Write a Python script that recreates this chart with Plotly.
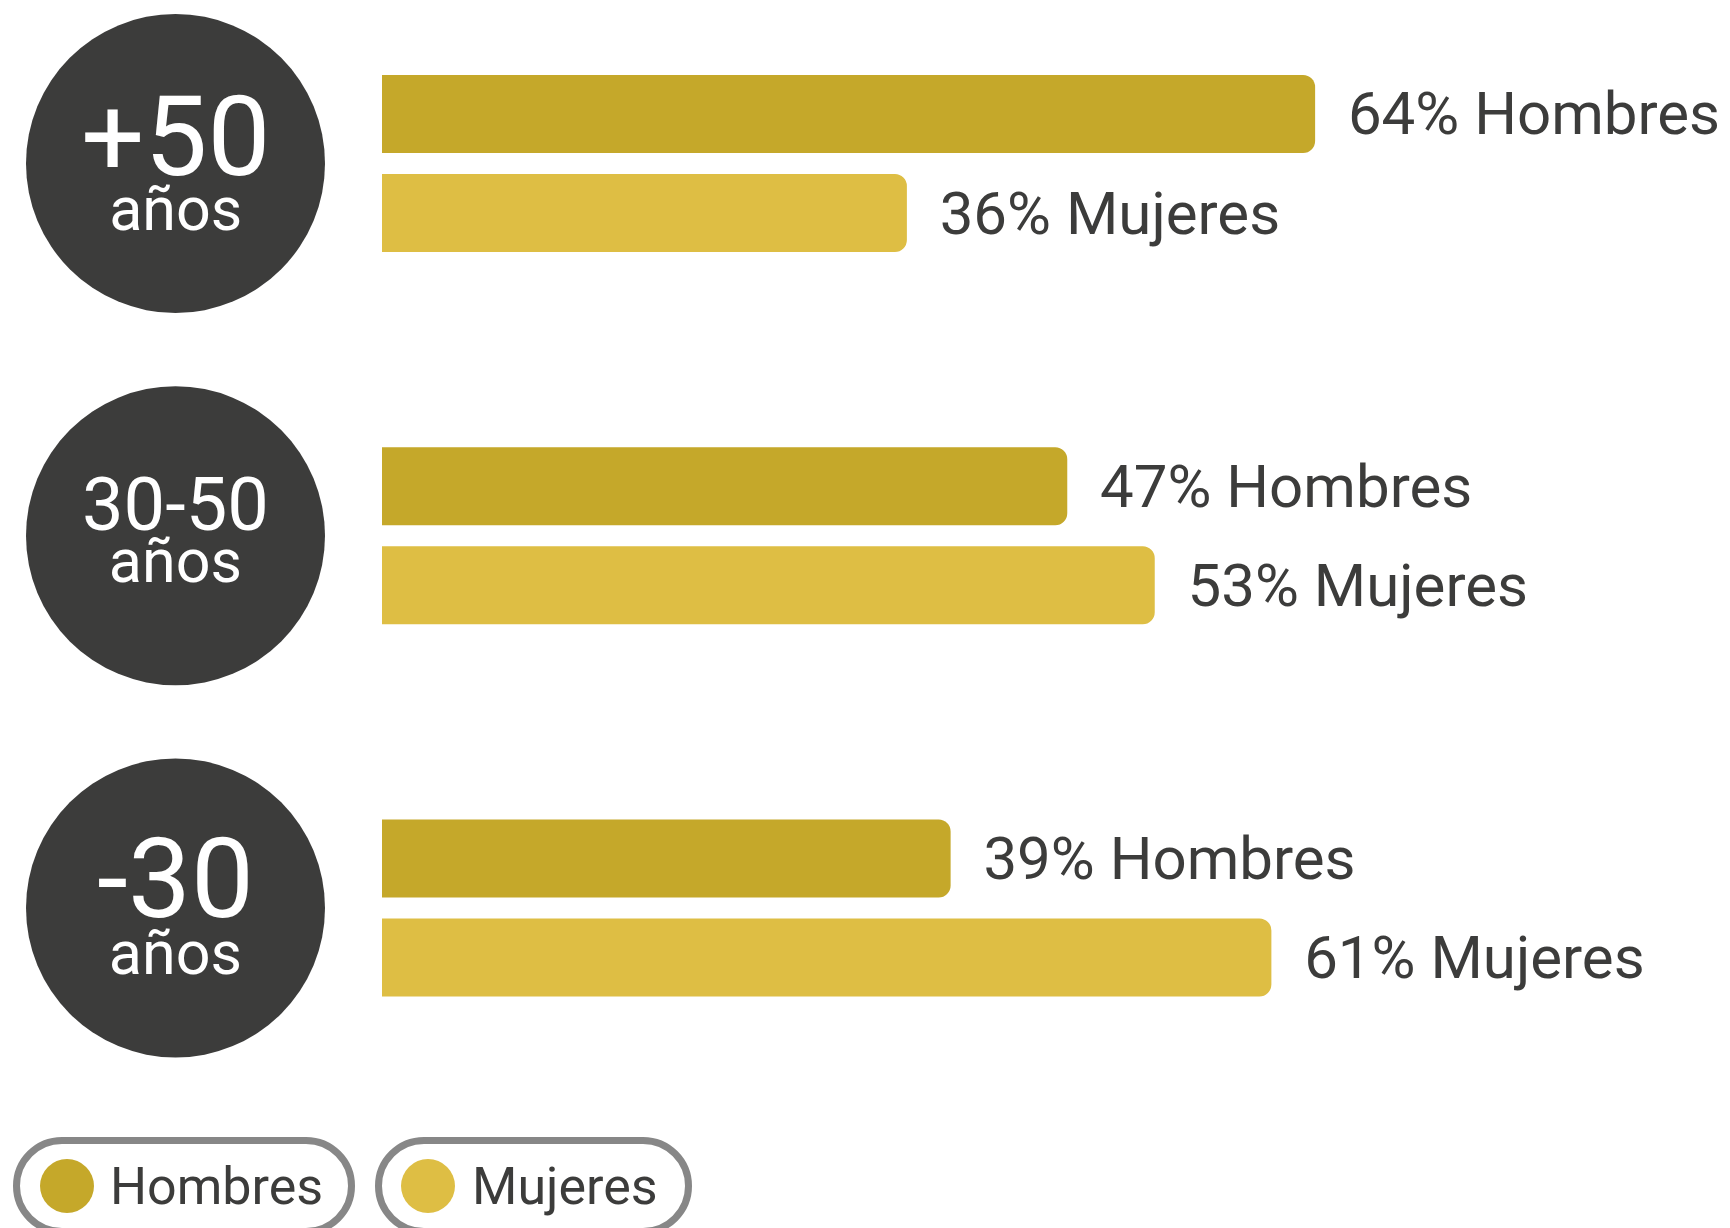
import plotly.graph_objects as go

# ---- data ----
age_groups = ["+50", "30-50", "-30"]
age_unit = "años"
series_names = ["Hombres", "Mujeres"]
hombres = [64, 47, 39]
mujeres = [36, 53, 61]

# ---- styles ----
OFF = 8  # page body margin
W, H = 1730 - OFF, 1228 - OFF
C_H = "#C5A82A"
C_M = "#DEBE44"
DARK = "#3C3C3B"
FONT = "Roboto"
colors = [C_H, C_M]
values = [hombres, mujeres]
cats = [f"{a} {age_unit}" for a in age_groups]

fig = go.Figure()

for name, vals, col in zip(series_names, values, colors):
    fig.add_trace(go.Bar(
        y=cats, x=vals, orientation="h", name=name,
        marker=dict(color=col, line=dict(width=0), cornerradius=12),
        text=[f"\u00a0\u00a0{v}% {name}" for v in vals],
        textposition="outside", constraintext="none", cliponaxis=False,
        textfont=dict(family=FONT, size=60, color=DARK),
        hoverinfo="skip", showlegend=False,
    ))

# circles
fig.add_trace(go.Scatter(
    x=[0] * len(cats), y=cats, xaxis="x2", yaxis="y", mode="markers",
    marker=dict(size=299, color=DARK, line=dict(width=0)),
    cliponaxis=False, hoverinfo="skip", showlegend=False,
))

big_sizes = [112, 74, 112]
line_gap = [42, 40, 44]     # base font size -> baseline spacing (1.3x)
label_shift = [6, 7, 7]
for cat, ag, bs, lg, sh in zip(cats, age_groups, big_sizes, line_gap, label_shift):
    txt = (f"<span style='font-size:{bs}px'>{ag}</span><br>"
           f"<span style='font-size:61px'>{age_unit}</span>")
    fig.add_annotation(x=0, y=cat, xref="x2", yref="y", text=txt, showarrow=False,
                       xanchor="center", yanchor="middle", yshift=sh, align="center",
                       font=dict(family=FONT, size=lg, color="white"))


def pill_path(x0, x1, y0, y1):
    r = (y1 - y0) / 2
    k = 0.5523 * r
    return (f"M{x0 + r},{y0} L{x1 - r},{y0} "
            f"C{x1 - r + k},{y0} {x1},{y0 + r - k} {x1},{y0 + r} "
            f"C{x1},{y0 + r + k} {x1 - r + k},{y1} {x1 - r},{y1} "
            f"L{x0 + r},{y1} "
            f"C{x0 + r - k},{y1} {x0},{y0 + r + k} {x0},{y0 + r} "
            f"C{x0},{y0 + r - k} {x0 + r - k},{y0} {x0 + r},{y0} Z")


# custom legend (pill boxes)
pill_x = [(16.5 - OFF, 351.5 - OFF), (378.5 - OFF, 688.5 - OFF)]
dot_x = [67 - OFF, 428 - OFF]
txt_x = [108 - OFF, 470 - OFF]
yc = 42  # pixels above bottom of paper
for name, col, (px0, px1), dx, tx in zip(series_names, colors, pill_x, dot_x, txt_x):
    fig.add_shape(type="path", xref="paper", yref="paper", xsizemode="pixel", ysizemode="pixel",
                  xanchor=0, yanchor=0, path=pill_path(px0, px1, yc - 45.5, yc + 45.5),
                  line=dict(color="#878787", width=7), fillcolor="white", layer="above")
    fig.add_shape(type="circle", xref="paper", yref="paper", xsizemode="pixel", ysizemode="pixel",
                  xanchor=0, yanchor=0, x0=dx - 27, x1=dx + 27, y0=yc - 27, y1=yc + 27,
                  line=dict(width=0), fillcolor=col, layer="above")
    fig.add_annotation(x=tx / W, y=yc / H, xref="paper", yref="paper", text=name, showarrow=False,
                       xanchor="left", yanchor="middle",
                       font=dict(family=FONT, size=52, color=DARK))

x_left = 382 - OFF
px_per_unit = 14.58
g0 = 163.5 - OFF      # first group centre, px from top
g_step = 372.25       # px between groups
circ_x = 175.5 - OFF
fig.update_layout(
    width=W, height=H, margin=dict(l=0, r=0, t=0, b=0),
    paper_bgcolor="white", plot_bgcolor="white",
    barmode="group", bargap=0.468, bargroupgap=0.21,
    xaxis=dict(domain=[x_left / W, 1], range=[0, (W - x_left) / px_per_unit],
               visible=False, fixedrange=True),
    xaxis2=dict(domain=[0, x_left / W], range=[-circ_x, x_left - circ_x],
                visible=False, anchor="y", fixedrange=True),
    yaxis=dict(range=[(H - g0) / g_step, -g0 / g_step], visible=False,
               fixedrange=True),
    showlegend=False,
)

fig.write_html("out.html")
